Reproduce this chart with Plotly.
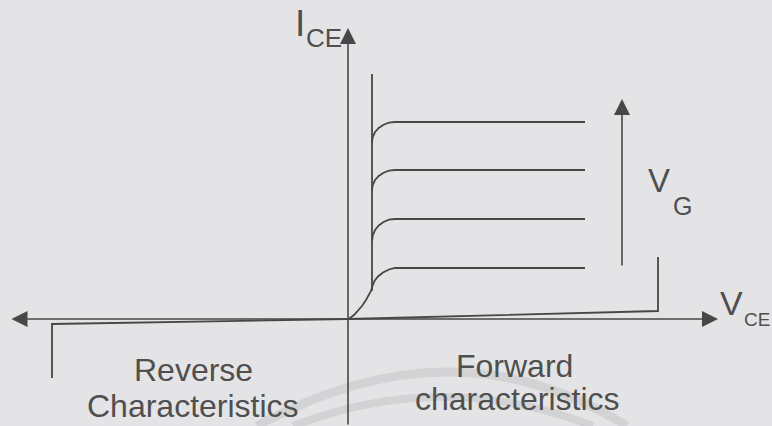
import plotly.graph_objects as go

# ---------------- data (schematic units: V_CE horizontal, I_CE vertical) -------------
# Forward output characteristics for four increasing gate voltages V_G
curve1_v = [24, 24.8, 27.1, 30.7, 35.5, 41.0, 47, 237]
curve1_i = [177, 182.2, 187, 191.1, 194.3, 196.3, 197, 197]
curve2_v = [24, 24.8, 27.1, 30.7, 35.5, 41.0, 47, 237]
curve2_i = [129, 134.2, 139, 143.1, 146.3, 148.3, 149, 149]
curve3_v = [24, 24.8, 27.1, 30.7, 35.5, 41.0, 47, 237]
curve3_i = [78, 83.7, 89, 93.5, 97, 99.3, 100, 100]
curve4_v = [0, 2, 6, 10, 14, 18, 21, 23, 24.5, 26.5, 30, 35, 41, 47, 237]
curve4_i = [0, 1, 4, 8, 13, 19, 24, 28, 33, 38, 42.5, 46.5, 49.5, 51, 51]
# knee (on-state threshold) line
knee_v = [24, 24]
knee_i = [28, 245]
# forward blocking (leakage + breakdown)
fwd_block_v = [0, 310, 310]
fwd_block_i = [0, 8, 62]
# reverse blocking (leakage + breakdown)
rev_block_v = [0, -296, -296]
rev_block_i = [0, -5, -59]

curves = [(curve1_v, curve1_i), (curve2_v, curve2_i), (curve3_v, curve3_i),
          (curve4_v, curve4_i), (knee_v, knee_i), (fwd_block_v, fwd_block_i),
          (rev_block_v, rev_block_i)]

# axis extents
x_min, x_max = -338, 370
y_min, y_max = -107, 291
vg_arrow_v = 274
vg_arrow_i = [52, 220]

LINE = "#474747"
TEXT = "#4f4f4f"
BG = "#e4e4e6"
FONT = "Liberation Sans, Arial, sans-serif"

fig = go.Figure()
for v, i in curves:
    fig.add_trace(go.Scatter(x=v, y=i, mode="lines",
                             line=dict(color=LINE, width=1.8),
                             hoverinfo="skip", showlegend=False))

# faint watermark arcs from the scan
fig.add_shape(type="path", path="M -91,-107 Q 106,1 279,-107",
              line=dict(color="#d3d3d5", width=9), layer="below")
fig.add_shape(type="path", path="M -55,-107 Q 95,-49 245,-107",
              line=dict(color="#d3d3d5", width=8), layer="below")

# axes with arrows
fig.add_annotation(x=0, y=y_max, ax=0, ay=y_min, xref="x", yref="y",
                   axref="x", ayref="y", text="", showarrow=True,
                   arrowhead=2, arrowsize=2, arrowwidth=1.6, arrowcolor=LINE)
fig.add_annotation(x=x_max, y=0, ax=x_min, ay=0, xref="x", yref="y",
                   axref="x", ayref="y", text="", showarrow=True,
                   arrowhead=2, arrowsize=2, arrowwidth=1.6, arrowcolor=LINE,
                   arrowside="end+start")
fig.add_annotation(x=vg_arrow_v, y=vg_arrow_i[1], ax=vg_arrow_v, ay=vg_arrow_i[0],
                   xref="x", yref="y", axref="x", ayref="y", text="",
                   showarrow=True, arrowhead=2, arrowsize=2, arrowwidth=1.6,
                   arrowcolor=LINE)

def label(txt, x, y, size, xanchor="center"):
    fig.add_annotation(x=x, y=y, xref="x", yref="y", text=txt, showarrow=False,
                       xanchor=xanchor, yanchor="middle",
                       font=dict(family=FONT, size=size, color=TEXT))

# axis labels
label("I", -48, 296, 37)
label("CE", -24, 281, 26)
label("V", 383, 16, 34)
label("CE", 409, 0, 19)
label("V", 311, 139, 33)
label("G", 334, 113, 25)
# region labels
label("Reverse", -155, -51, 32)
label("Characteristics", -155, -87, 32)
label("Forward", 166, -47, 32)
label("characteristics", 169, -80, 32)

fig.update_layout(
    width=772, height=426, margin=dict(l=0, r=0, t=0, b=0),
    paper_bgcolor=BG, plot_bgcolor=BG,
    xaxis=dict(range=[-348, 424], visible=False, fixedrange=True),
    yaxis=dict(range=[-107, 319], visible=False, fixedrange=True),
)
fig.write_html(
    "out.html",
    config={"displayModeBar": False},
    post_script="document.body.style.margin='0';"
                "document.body.style.background='" + BG + "';"
                "document.body.style.overflow='hidden';",
)
